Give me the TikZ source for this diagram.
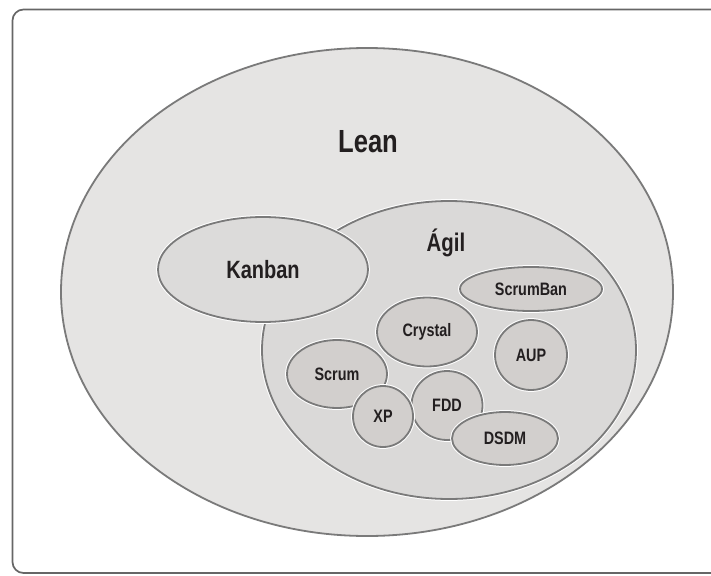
\documentclass[tikz,border=0pt]{standalone}
\usepackage{fontspec}
\setmainfont{Liberation Sans}[FakeStretch=0.80]
\usetikzlibrary{shapes.geometric}
\definecolor{edgegray}{HTML}{7A7A7A}
\definecolor{framegray}{HTML}{666666}
\definecolor{leanfill}{HTML}{E5E4E3}
\definecolor{agilfill}{HTML}{DAD9D8}
\definecolor{kanbanfill}{HTML}{DCDBDA}
\definecolor{smallfill}{HTML}{D2CFCD}
\definecolor{txt}{HTML}{231F20}
\tikzset{
  blob/.style={ellipse, inner sep=0pt, draw=edgegray, line width=1.8pt,
    preaction={draw=white, line width=3.8pt}, text=txt, font=\bfseries},
  method/.style={blob, fill=smallfill, font=\bfseries\fontsize{18}{19}\selectfont},
  biglabel/.style={text=txt, inner sep=0pt},
}
\begin{document}
\begin{tikzpicture}[x=1pt,y=-1pt]
\useasboundingbox (0,0) rectangle (711,575);
\fill[white] (0,0) rectangle (711,575);
\begin{scope}
\clip (0,0) rectangle (711,575);
\draw[framegray, line width=1.7pt, rounded corners=11pt] (12.5,9.5) rectangle (740,573);
\end{scope}
\node[blob, fill=leanfill, minimum width=612pt, minimum height=488pt] (lean) at (367,292) {};
\node[blob, fill=agilfill, minimum width=374pt, minimum height=298pt] (agil) at (449,350) {};
\node[blob, fill=kanbanfill, minimum width=210pt, minimum height=105pt,
      font=\bfseries\fontsize{25}{26}\selectfont] (kanban) at (263,269.5) {Kanban};
\node[biglabel, font=\bfseries\fontsize{32}{33}\selectfont] (leanlabel) at (368,142) {Lean};
\node[biglabel, font=\bfseries\fontsize{25.5}{27}\selectfont] (agillabel) at (446,243) {Ágil};
\node[method, minimum width=142pt, minimum height=44pt] (scrumban) at (531,289) {ScrumBan};
\node[method, minimum width=100pt, minimum height=69pt] (crystal) at (427,332) {Crystal};
\node[method, minimum width=72pt, minimum height=70pt] (aup) at (531,355) {AUP};
\node[method, minimum width=100pt, minimum height=68pt] (scrum) at (337,374) {Scrum};
\node[method, minimum width=71pt, minimum height=69pt] (fdd) at (447,405.5) {FDD};
\node[method, minimum width=60pt, minimum height=61pt] (xp) at (383,416.5) {XP};
\node[method, minimum width=106pt, minimum height=53pt] (dsdm) at (505,438.5) {DSDM};
\end{tikzpicture}
\end{document}
